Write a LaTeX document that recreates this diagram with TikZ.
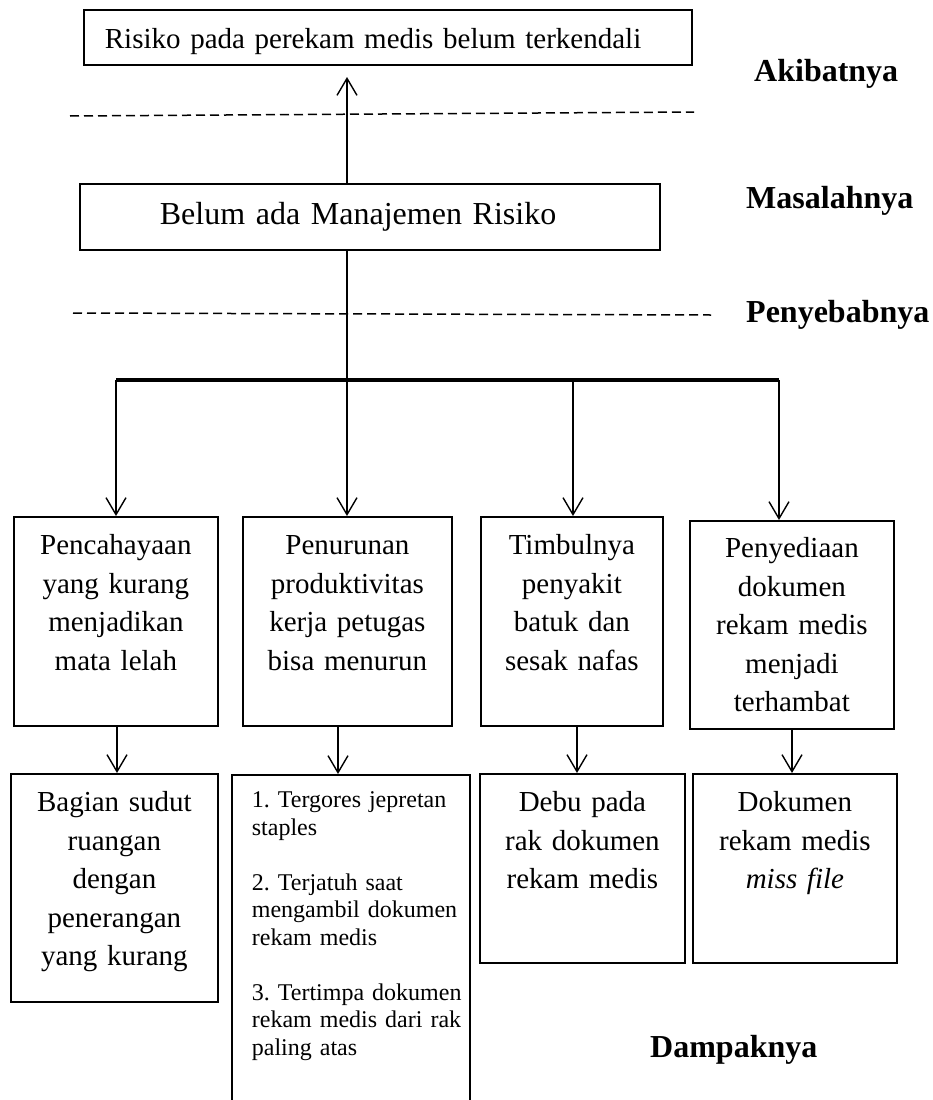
\documentclass[tikz,border=0pt]{standalone}
\usepackage{fontspec}
\setmainfont{Liberation Serif}
\usetikzlibrary{arrows.meta}
\frenchspacing
\newcommand{\isitengah}[1]{\begin{tabular}[t]{@{}c@{}}#1\end{tabular}}
\newcommand{\isikiri}[1]{\begin{tabular}[t]{@{}l@{}}#1\end{tabular}}
\begin{document}
\begin{tikzpicture}[x=1pt,y=-1pt]
  \tikzstyle{every node}+=[inner sep=0pt]
  \tikzstyle{kotak}=[draw, black, line width=1.8pt, anchor=north west, align=center, font=\fontsize{29}{38.5}\selectfont]
  \tikzstyle{panah}=[black, line width=1.4pt, -{Straight Barb[length=17pt,width=20pt]}]
  \tikzstyle{garis}=[black, line width=1.4pt]
  \tikzstyle{putus}=[black, line width=1.5pt, dash pattern=on 9pt off 5pt]
  \tikzstyle{judul}=[anchor=base west, font=\fontsize{32}{38}\selectfont\bfseries]
  \useasboundingbox (0,0) rectangle (932,1100);
  \clip (0,0) rectangle (932,1100);
  \node (akibat) [kotak, align=left, text width=608pt, text height=39pt, text depth=16pt] at (83,9) {\hspace*{21pt}\isikiri{Risiko pada perekam medis belum terkendali}};
  \node (masalah) [kotak, align=left, text width=580pt, text height=41pt, text depth=25pt, font=\fontsize{32}{38}\selectfont] at (79,183) {\hspace*{80pt}\isikiri{Belum ada Manajemen Risiko}};
  \node (pA) [kotak, text width=204pt, text height=38pt, text depth=171pt] at (13,516) {\isitengah{Pencahayaan\\ yang kurang\\ menjadikan\\ mata lelah}};
  \node (pB) [kotak, text width=209pt, text height=38pt, text depth=171pt] at (242,516) {\isitengah{Penurunan\\ produktivitas\\ kerja petugas\\ bisa menurun}};
  \node (pC) [kotak, text width=182pt, text height=38pt, text depth=171pt] at (480,516) {\isitengah{Timbulnya\\ penyakit\\ batuk dan\\ sesak nafas}};
  \node (pD) [kotak, text width=204pt, text height=37pt, text depth=171pt] at (689,520) {\isitengah{Penyediaan\\ dokumen\\ rekam medis\\ menjadi\\ terhambat}};
  \node (dA) [kotak, text width=207pt, text height=38pt, text depth=190pt] at (10,773) {\isitengah{Bagian sudut\\ ruangan\\ dengan\\ penerangan\\ yang kurang}};
  \node (dB) [kotak, align=left, text width=238pt, text height=33pt, text depth=308pt, font=\fontsize{24}{27.5}\selectfont] at (231,774) {\hspace*{20pt}\isikiri{1. Tergores jepretan\\ staples\\[27.5pt] 2. Terjatuh saat\\ mengambil dokumen\\ rekam medis\\[27.5pt] 3. Tertimpa dokumen\\ rekam medis dari rak\\ paling atas}};
  \node (dC) [kotak, text width=205pt, text height=38pt, text depth=151pt] at (479,773) {\isitengah{Debu pada\\ rak dokumen\\ rekam medis}};
  \node (dD) [kotak, text width=204pt, text height=38pt, text depth=151pt] at (692,773) {\isitengah{Dokumen\\ rekam medis\\ \textit{miss file}}};
  \node (lAkibat) [judul] at (754,81) {Akibatnya};
  \node (lMasalah) [judul] at (746,208) {Masalahnya};
  \node (lPenyebab) [judul] at (746,322) {Penyebabnya};
  \node (lDampak) [judul] at (650,1057) {Dampaknya};
  \coordinate (ujung) at (347,77);
  \coordinate (cabang) at (347,380);
  \coordinate (kiri) at (116,380);
  \coordinate (tengah) at (573,380);
  \coordinate (kanan) at (779,380);
  \coordinate (kA) at (117,0);
  \coordinate (kB) at (338,0);
  \coordinate (kC) at (577,0);
  \coordinate (kD) at (792,0);
  \draw [panah] (masalah.north -| ujung) -- (ujung);
  \draw [garis] (masalah.south -| cabang) -- (cabang);
  \draw [black, line width=3.5pt] (kiri) -- (kanan);
  \draw [panah] (kiri) -- (pA.north -| kiri);
  \draw [panah] (cabang) -- (pB.north -| cabang);
  \draw [panah] (tengah) -- (pC.north -| tengah);
  \draw [panah] (kanan) -- (pD.north -| kanan);
  \draw [panah] (pA.south -| kA) -- (dA.north -| kA);
  \draw [panah] (pB.south -| kB) -- (dB.north -| kB);
  \draw [panah] (pC.south -| kC) -- (dC.north -| kC);
  \draw [panah] (pD.south -| kD) -- (dD.north -| kD);
  \draw [putus] (70,116) -- (694,112);
  \draw [putus] (73,313) -- (711,315);
\end{tikzpicture}
\end{document}
